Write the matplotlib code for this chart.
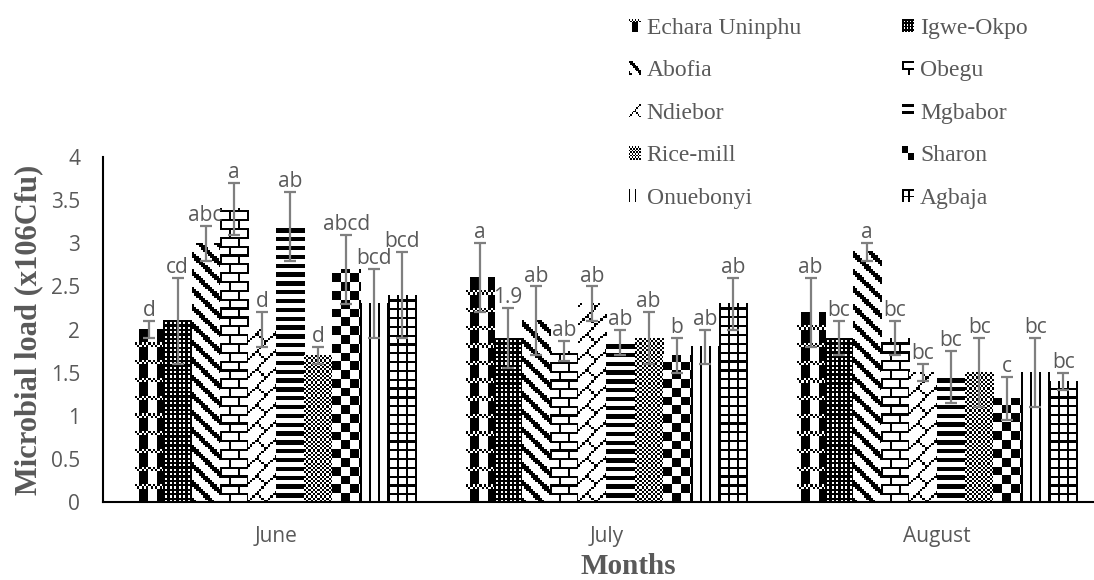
import numpy as np
import matplotlib
matplotlib.use("Agg")
import matplotlib.pyplot as plt
from matplotlib.patches import Patch, Rectangle
from matplotlib.legend_handler import HandlerBase

months = ["June", "July", "August"]
sites = ["Echara Uninphu", "Igwe-Okpo", "Abofia", "Obegu", "Ndiebor",
         "Mgbabor", "Rice-mill", "Sharon", "Onuebonyi", "Agbaja"]

# mean microbial load per site (x10^6 cfu)
june = [2.0, 2.1, 3.0, 3.4, 2.0, 3.2, 1.7, 2.7, 2.3, 2.4]
july = [2.6, 1.9, 2.1, 1.75, 2.3, 1.85, 1.9, 1.7, 1.8, 2.3]
august = [2.2, 1.9, 2.9, 1.9, 1.5, 1.45, 1.5, 1.2, 1.5, 1.4]

# standard errors
june_err = [0.1, 0.5, 0.2, 0.3, 0.2, 0.4, 0.1, 0.4, 0.4, 0.5]
july_err = [0.4, 0.35, 0.4, 0.12, 0.2, 0.15, 0.3, 0.2, 0.2, 0.3]
august_err = [0.4, 0.2, 0.1, 0.2, 0.1, 0.3, 0.4, 0.25, 0.4, 0.1]

# significance letters
june_lab = ["d", "cd", "abc", "a", "d", "ab", "d", "abcd", "bcd", "bcd"]
july_lab = ["a", "1.9", "ab", "ab", "ab", "ab", "ab", "b", "ab", "ab"]
august_lab = ["ab", "bc", "a", "bc", "bc", "bc", "bc", "c", "bc", "bc"]

values = [june, july, august]
errors = [june_err, july_err, august_err]
letters = [june_lab, july_lab, august_lab]

# 8x8 fill bitmaps (top row first), like the office pattern fills
fills = {
    "Echara Uninphu": ["10101010", "01010101", "00111100", "00111100",
                       "00111100", "00111100", "00111100", "00111100"],
    "Igwe-Okpo": ["11111111", "10101010"] * 4,
    "Abofia": ["11100000", "01110000", "00111000", "00011100",
               "00001110", "00000111", "10000011", "11000001"],
    "Obegu": ["11111111", "10000000", "10000000", "10000000",
              "11111111", "00001000", "00001000", "00001000"],
    "Ndiebor": ["00000001", "00000010", "00000100", "00001000",
                "00011000", "00100100", "01000010", "10000001"],
    "Mgbabor": ["11111111", "11111111", "00000000", "00000000"] * 2,
    "Rice-mill": ["10101010", "01010101"] * 4,
    "Sharon": ["11110000"] * 4 + ["00001111"] * 4,
    "Onuebonyi": ["10001000"] * 8,
    "Agbaja": ["11111111", "10001000", "10001000", "10001000"] * 2,
}

grey = "#595959"
bar_w = 0.085
cell = 2.2  # screen pixels per bitmap pixel

fig = plt.figure(figsize=(10.94, 5.80), dpi=100)
ax = fig.add_axes([103 / 1094, 78 / 580, 991 / 1094, 345 / 580])
xlim = (-0.523, 2.475)
ax.set_xlim(*xlim)
ax.set_ylim(0, 4)

px0 = ax.transData.transform((0, 0))
px1 = ax.transData.transform((1, 1))
px_x, px_y = px1 - px0

x = np.arange(len(months))
for i, site in enumerate(sites):
    xs = x + (i - 4.5) * bar_w
    hs = [v[i] for v in values]
    es = [e[i] for e in errors]
    bars = ax.bar(xs, hs, width=bar_w, color="white", linewidth=0, zorder=1)
    # flip so the first string ends up on top with origin="lower"
    bits = np.array([[int(c) for c in row] for row in fills[site]])[::-1]
    for b in bars:
        h = b.get_height()
        x0 = b.get_x()
        nc = max(1, int(round(bar_w * px_x / cell)))
        nr = max(1, int(round(h * px_y / cell)))
        reps = (nr // bits.shape[0] + 1, nc // bits.shape[1] + 1)
        img = np.tile(bits, reps)[:nr, :nc]
        ax.imshow(img, cmap="gray_r", vmin=0, vmax=1, origin="lower",
                  extent=(x0, x0 + bar_w, 0, h), interpolation="nearest",
                  aspect="auto", zorder=2)
    ax.errorbar(xs, hs, yerr=es, fmt="none", ecolor="#7f7f7f",
                elinewidth=1.6, capsize=4.5, capthick=1.6, zorder=3)
    for j in range(len(months)):
        ax.text(xs[j], hs[j] + es[j] + 0.12, letters[j][i], ha="center",
                va="center", fontsize=15, color=grey, family="Open Sans",
                zorder=4)

ax.set_xlim(*xlim)
ax.set_ylim(0, 4)
ax.set_xticks(x)
ax.set_xticklabels(months, fontsize=15, color=grey, family="Open Sans")
ax.set_yticks(np.arange(0, 4.01, 0.5))
ax.set_yticklabels(["0", "0.5", "1", "1.5", "2", "2.5", "3", "3.5", "4"],
                   fontsize=15, color=grey, family="Open Sans")
ax.tick_params(axis="both", length=0)
ax.tick_params(axis="y", pad=16.5)
ax.tick_params(axis="x", pad=17)
for side in ["top", "right"]:
    ax.spines[side].set_visible(False)
for side in ["left", "bottom"]:
    ax.spines[side].set_color("black")
    ax.spines[side].set_linewidth(1.5)

ax.set_ylabel("Microbial load (x106Cfu)", fontsize=22, fontweight="bold",
              color=grey, family="Liberation Serif")
ax.yaxis.set_label_coords(-0.0605, 0.5)
fig.text(628 / 1094, 1 - 574 / 580, "Months", fontsize=21, fontweight="bold",
         color=grey, family="Liberation Serif", ha="center", va="baseline")


class FillKey(HandlerBase):
    # small legend key drawn from the same bitmap as the bars
    def create_artists(self, legend, orig_handle, xdescent, ydescent,
                       width, height, fontsize, trans):
        rows = fills[orig_handle.get_label()]
        n = 8
        cw, ch = width / n, height / n
        arts = []
        for r in range(n):
            for c in range(n):
                if rows[r % len(rows)][c % 8] == "1":
                    arts.append(Rectangle((-xdescent + c * cw,
                                           -ydescent + height - (r + 1) * ch),
                                          cw, ch, facecolor="black",
                                          linewidth=0, transform=trans))
        return arts


handles = [Patch(label=s) for s in sites]
order = [0, 2, 4, 6, 8, 1, 3, 5, 7, 9]
leg = fig.legend([handles[k] for k in order], [sites[k] for k in order],
                 handler_map={Patch: FillKey()}, loc="upper left",
                 bbox_to_anchor=(629 / 1094, 1 - 18 / 580), ncol=2,
                 frameon=False, borderpad=0, borderaxespad=0,
                 handlelength=0.5, handleheight=0.5, handletextpad=0.25,
                 columnspacing=4.3, labelspacing=0.91,
                 prop={"family": "Liberation Serif", "size": 17})
for t in leg.get_texts():
    t.set_color(grey)

fig.savefig("out.png", dpi=100)
